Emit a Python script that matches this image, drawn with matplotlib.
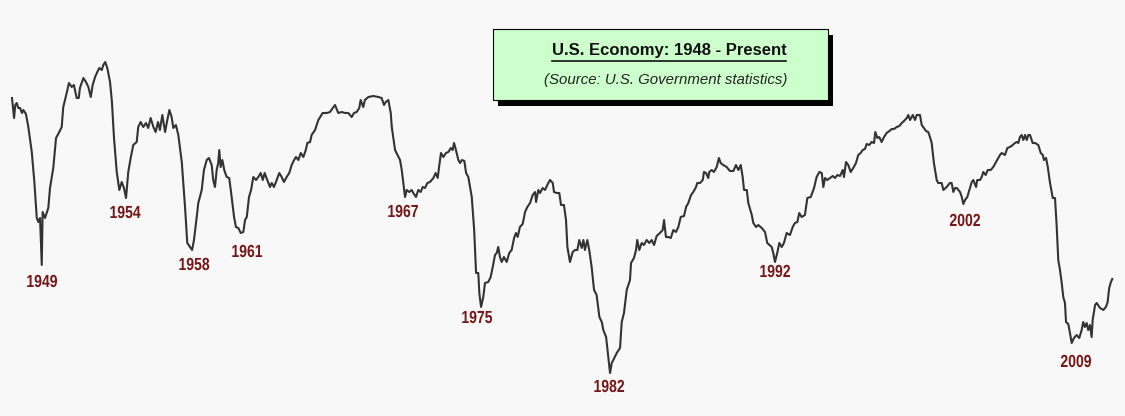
import matplotlib
matplotlib.use('Agg')
import matplotlib.pyplot as plt
from matplotlib.patches import Rectangle
from matplotlib.lines import Line2D
from matplotlib.patheffects import AbstractPathEffect
from matplotlib.transforms import Affine2D

# index of economic activity (arbitrary units)
years = [
    1948.00, 1948.12, 1948.19, 1948.27, 1948.37, 1948.47, 1948.58, 1948.66, 1948.81, 1948.95,
    1949.15, 1949.30, 1949.44, 1949.53, 1949.63, 1949.73, 1949.78, 1949.92, 1950.11, 1950.21,
    1950.40, 1950.56, 1950.75, 1950.89, 1950.98, 1951.18, 1951.31, 1951.47, 1951.60, 1951.76,
    1951.88, 1951.95, 1952.15, 1952.30, 1952.44, 1952.58, 1952.69, 1952.83, 1952.96, 1953.08,
    1953.22, 1953.31, 1953.42, 1953.54, 1953.70, 1953.81, 1953.93, 1954.09, 1954.24, 1954.38,
    1954.51, 1954.63, 1954.76, 1954.90, 1955.05, 1955.25, 1955.34, 1955.48, 1955.63, 1955.79,
    1955.92, 1956.06, 1956.22, 1956.35, 1956.49, 1956.60, 1956.74, 1956.90, 1957.03, 1957.15,
    1957.28, 1957.38, 1957.53, 1957.67, 1957.87, 1958.06, 1958.19, 1958.35, 1958.47, 1958.58,
    1958.74, 1958.83, 1959.03, 1959.16, 1959.32, 1959.45, 1959.61, 1959.70, 1959.80, 1959.90,
    1959.99, 1960.05, 1960.13, 1960.23, 1960.34, 1960.48, 1960.63, 1960.77, 1960.91, 1961.02,
    1961.16, 1961.30, 1961.45, 1961.55, 1961.65, 1961.78, 1961.90, 1962.03, 1962.19, 1962.32,
    1962.46, 1962.58, 1962.69, 1962.84, 1963.00, 1963.10, 1963.23, 1963.39, 1963.54, 1963.68,
    1963.81, 1963.97, 1964.12, 1964.26, 1964.40, 1964.51, 1964.65, 1964.79, 1964.94, 1965.08,
    1965.17, 1965.33, 1965.42, 1965.62, 1965.81, 1966.06, 1966.30, 1966.49, 1966.65, 1966.78,
    1966.97, 1967.17, 1967.36, 1967.55, 1967.75, 1967.88, 1968.04, 1968.19, 1968.27, 1968.42,
    1968.52, 1968.72, 1969.01, 1969.30, 1969.49, 1969.63, 1969.73, 1969.88, 1970.02, 1970.08,
    1970.27, 1970.56, 1970.66, 1970.75, 1970.85, 1970.95, 1971.10, 1971.24, 1971.33, 1971.49,
    1971.62, 1971.76, 1971.88, 1972.01, 1972.15, 1972.30, 1972.50, 1972.63, 1972.75, 1972.83,
    1972.94, 1973.08, 1973.23, 1973.37, 1973.51, 1973.62, 1973.70, 1973.81, 1973.95, 1974.05,
    1974.16, 1974.30, 1974.40, 1974.53, 1974.73, 1974.87, 1974.98, 1975.11, 1975.17, 1975.27,
    1975.40, 1975.50, 1975.69, 1975.83, 1975.95, 1976.08, 1976.18, 1976.27, 1976.37, 1976.47,
    1976.60, 1976.76, 1976.91, 1977.05, 1977.19, 1977.30, 1977.40, 1977.53, 1977.69, 1977.83,
    1977.96, 1978.12, 1978.27, 1978.41, 1978.47, 1978.60, 1978.70, 1978.85, 1978.99, 1979.12,
    1979.28, 1979.44, 1979.51, 1979.67, 1979.82, 1979.92, 1980.09, 1980.21, 1980.29, 1980.44,
    1980.60, 1980.73, 1980.87, 1980.98, 1981.12, 1981.22, 1981.31, 1981.45, 1981.56, 1981.70,
    1981.84, 1981.99, 1982.15, 1982.29, 1982.38, 1982.54, 1982.67, 1982.77, 1982.87, 1982.96,
    1983.16, 1983.35, 1983.45, 1983.58, 1983.74, 1983.93, 1983.99, 1984.16, 1984.28, 1984.35,
    1984.47, 1984.61, 1984.74, 1984.90, 1985.05, 1985.19, 1985.33, 1985.48, 1985.67, 1985.83,
    1985.91, 1986.02, 1986.16, 1986.30, 1986.45, 1986.60, 1986.74, 1986.88, 1987.07, 1987.19,
    1987.32, 1987.48, 1987.61, 1987.77, 1987.84, 1988.00, 1988.16, 1988.23, 1988.35, 1988.48,
    1988.54, 1988.68, 1988.81, 1988.97, 1989.10, 1989.20, 1989.35, 1989.55, 1989.74, 1989.94,
    1990.09, 1990.23, 1990.37, 1990.48, 1990.56, 1990.72, 1990.81, 1991.01, 1991.10, 1991.26,
    1991.39, 1991.59, 1991.78, 1991.91, 1992.17, 1992.26, 1992.36, 1992.49, 1992.61, 1992.75,
    1992.88, 1993.04, 1993.23, 1993.39, 1993.52, 1993.66, 1993.77, 1993.91, 1994.10, 1994.24,
    1994.44, 1994.63, 1994.78, 1994.94, 1995.08, 1995.17, 1995.27, 1995.40, 1995.56, 1995.72,
    1995.85, 1995.99, 1996.14, 1996.30, 1996.37, 1996.49, 1996.62, 1996.76, 1996.91, 1997.07,
    1997.20, 1997.34, 1997.46, 1997.59, 1997.69, 1997.84, 1997.98, 1998.12, 1998.19, 1998.31,
    1998.42, 1998.56, 1998.70, 1998.85, 1999.01, 1999.15, 1999.28, 1999.44, 1999.59, 1999.73,
    1999.86, 2000.02, 2000.11, 2000.21, 2000.37, 2000.50, 2000.60, 2000.79, 2000.89, 2001.02,
    2001.14, 2001.27, 2001.37, 2001.47, 2001.60, 2001.76, 2001.85, 2002.05, 2002.15, 2002.34,
    2002.53, 2002.63, 2002.73, 2002.83, 2002.93, 2003.12, 2003.22, 2003.31, 2003.41, 2003.54,
    2003.70, 2003.80, 2003.89, 2004.05, 2004.12, 2004.28, 2004.38, 2004.47, 2004.61, 2004.73,
    2004.90, 2005.05, 2005.21, 2005.34, 2005.44, 2005.54, 2005.73, 2005.87, 2006.02, 2006.18,
    2006.31, 2006.41, 2006.51, 2006.60, 2006.70, 2006.80, 2006.90, 2007.00, 2007.09, 2007.19,
    2007.34, 2007.48, 2007.67, 2007.81, 2007.93, 2008.00, 2008.12, 2008.22, 2008.35, 2008.51,
    2008.64, 2008.74, 2008.83, 2008.93, 2009.03, 2009.12, 2009.22, 2009.28, 2009.41, 2009.51,
    2009.61, 2009.74, 2009.90, 2010.05, 2010.19, 2010.28, 2010.38, 2010.48, 2010.57, 2010.67,
    2010.77, 2010.83, 2010.97, 2011.06, 2011.26, 2011.45, 2011.60, 2011.70, 2011.79, 2011.89,
    2011.97,
]
values = [
    302, 282, 295, 297, 292, 292, 287, 290, 286, 273,
    248, 218, 182, 178, 182, 135, 188, 182, 192, 212,
    232, 262, 268, 273, 293, 307, 317, 313, 315, 302,
    302, 312, 322, 318, 313, 303, 315, 323, 328, 332,
    330, 335, 338, 332, 318, 298, 262, 228, 210, 218,
    212, 202, 228, 242, 255, 258, 273, 278, 273, 277,
    272, 282, 273, 268, 278, 270, 285, 268, 280, 290,
    283, 272, 275, 265, 238, 193, 157, 153, 150, 160,
    183, 197, 210, 230, 240, 242, 235, 220, 213, 230,
    237, 250, 233, 240, 230, 223, 222, 203, 183, 173,
    172, 167, 168, 180, 183, 203, 210, 223, 220, 223,
    227, 220, 227, 220, 213, 217, 213, 220, 227, 223,
    218, 223, 227, 235, 240, 243, 240, 247, 243, 250,
    257, 258, 265, 270, 280, 287, 287, 288, 292, 295,
    287, 288, 287, 287, 283, 287, 288, 292, 300, 293,
    300, 303, 304, 303, 302, 295, 298, 300, 287, 273,
    250, 240, 230, 217, 203, 210, 208, 210, 207, 203,
    210, 208, 213, 212, 217, 218, 222, 227, 222, 233,
    247, 243, 247, 248, 252, 250, 257, 250, 240, 237,
    240, 239, 227, 223, 203, 170, 127, 127, 107, 93,
    103, 117, 118, 123, 133, 145, 147, 153, 143, 138,
    143, 138, 147, 150, 162, 167, 163, 173, 176, 188,
    193, 197, 205, 208, 198, 210, 207, 212, 210, 215,
    220, 217, 208, 207, 207, 195, 195, 180, 153, 138,
    148, 150, 150, 160, 152, 160, 150, 160, 150, 133,
    110, 105, 83, 78, 70, 63, 43, 27, 37, 40,
    47, 52, 78, 87, 110, 120, 137, 142, 150, 160,
    150, 157, 155, 160, 157, 160, 155, 164, 167, 170,
    180, 163, 163, 162, 170, 168, 173, 183, 184, 193,
    197, 205, 208, 213, 217, 217, 220, 228, 227, 222,
    228, 230, 228, 233, 242, 237, 235, 233, 229, 229,
    235, 230, 235, 223, 210, 210, 197, 185, 177, 173,
    175, 172, 168, 157, 153, 147, 138, 147, 157, 153,
    157, 167, 165, 173, 177, 178, 187, 183, 185, 202,
    203, 212, 223, 228, 227, 213, 222, 220, 222, 224,
    222, 225, 224, 230, 223, 238, 235, 228, 232, 237,
    245, 247, 250, 251, 256, 255, 258, 257, 268, 262,
    263, 258, 263, 267, 269, 271, 271, 273, 274, 277,
    279, 282, 285, 280, 285, 280, 285, 285, 275, 272,
    269, 268, 263, 257, 237, 220, 217, 217, 210, 213,
    217, 217, 208, 212, 212, 208, 203, 196, 200, 203,
    212, 218, 220, 213, 220, 220, 223, 228, 225, 230,
    230, 233, 238, 242, 245, 247, 245, 252, 253, 255,
    257, 258, 257, 263, 265, 260, 265, 260, 265, 265,
    257, 257, 255, 247, 245, 240, 242, 233, 217, 202,
    202, 173, 140, 130, 117, 103, 97, 78, 76, 67,
    57, 62, 65, 62, 70, 78, 73, 77, 70, 75,
    63, 80, 95, 97, 92, 90, 93, 98, 112, 118,
    121,
]

# trough labels: centre year and baseline value
trough_labels = ['1949', '1954', '1958', '1961', '1967', '1975', '1982', '1992', '2002', '2009']
label_x = [1949.74, 1954.57, 1958.58, 1961.66, 1970.73, 1975.03, 1982.71, 1992.36, 2003.41, 2009.86]
label_y = [113, 182, 130, 143, 183, 77, 8, 123, 174, 33]

title = 'U.S. Economy: 1948 - Present'
subtitle = '(Source: U.S. Government statistics)'


class Squeeze(AbstractPathEffect):
    """draw text narrower around its own centre (no narrow font installed)"""
    def __init__(self, sx):
        super().__init__()
        self.sx = sx

    def draw_path(self, renderer, gc, tpath, affine, rgbFace=None):
        ext = tpath.get_extents(affine)
        cx = (ext.x0 + ext.x1) / 2
        aff = affine + Affine2D().translate(-cx, 0).scale(self.sx, 1).translate(cx, 0)
        renderer.draw_path(gc, tpath, aff, rgbFace)


W, H = 1125, 416
fig = plt.figure(figsize=(W / 100, H / 100), dpi=100, facecolor='#f8f8f8')
ax = fig.add_axes([0, 0, 1, 1])
ax.set_facecolor('#f8f8f8')

ax.plot(years, values, color='#333333', lw=1.5)

ax.set_xlim(1948 - 12 / 17.2, 1948 + (W - 12) / 17.2)
ax.set_ylim(400 - H, 400)
ax.axis('off')

for t, x, y in zip(trough_labels, label_x, label_y):
    ax.text(x, y, t, ha='center', va='baseline', fontsize=12.6, fontweight='bold',
            color='#761616', family='Liberation Sans', path_effects=[Squeeze(0.8)])

# title box with a drop shadow (figure pixels -> fractions)
bx, by, bw, bh = 493.3, 29.3, 335, 70.7
sh = Rectangle(((bx + 5) / W, 1 - (by + bh + 6) / H), bw / W, bh / H,
               transform=fig.transFigure, facecolor='black', edgecolor='none', zorder=1)
box = Rectangle((bx / W, 1 - (by + bh) / H), bw / W, bh / H,
                transform=fig.transFigure, facecolor='#ccffcc', edgecolor='black',
                lw=0.8, zorder=2)
fig.patches.extend([sh, box])

ttl = fig.text(669 / W, 1 - 51 / H, title, ha='center', va='center', fontsize=12,
               fontweight='bold', color='#111111', family='Liberation Sans', zorder=3)
fig.text(666 / W, 1 - 80 / H, subtitle, ha='center', va='center', fontsize=10.8,
         style='italic', color='#222222', family='Liberation Sans', zorder=3)

# underline the title
fig.canvas.draw()
bb = ttl.get_window_extent()
uy = bb.y0 - 2
fig.lines.append(Line2D([bb.x0 / W, bb.x1 / W], [uy / H, uy / H], transform=fig.transFigure,
                        color='#111111', lw=1.2, zorder=3))

fig.savefig('out.png', dpi=100, facecolor=fig.get_facecolor())
